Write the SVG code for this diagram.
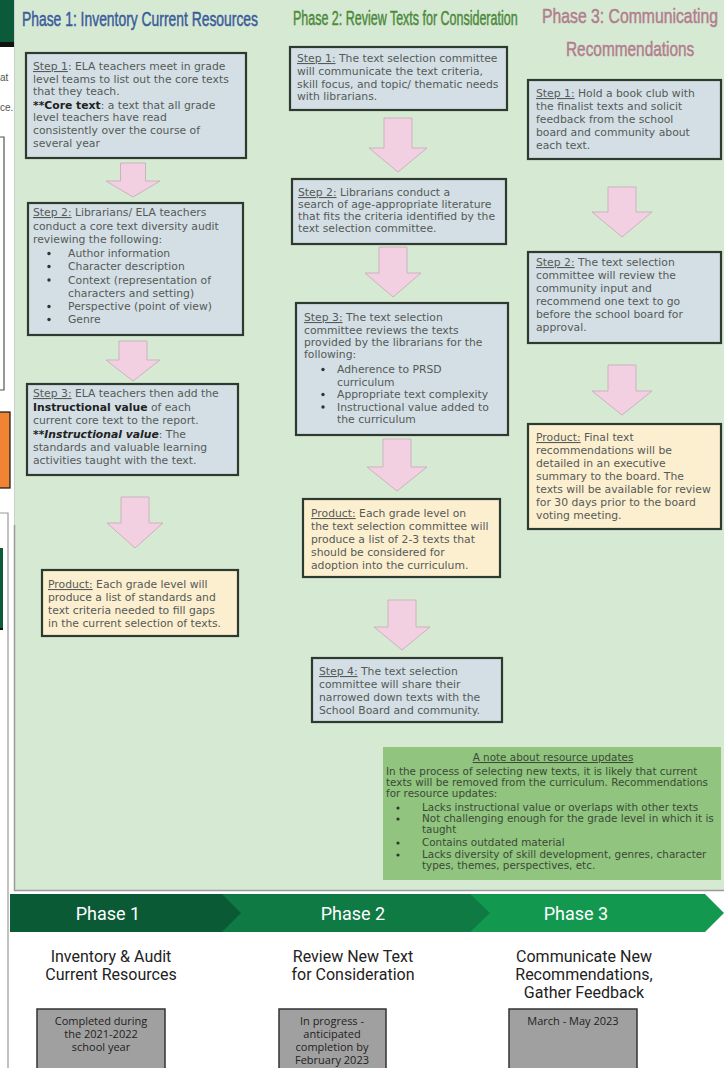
<svg xmlns="http://www.w3.org/2000/svg" width="724" height="1068" viewBox="0 0 724 1068">
<style>
.t{font-family:"DejaVu Sans","Liberation Sans",sans-serif;font-size:10.8px;fill:#555a58}
.b{font-weight:bold;fill:#222}
.u{text-decoration:underline}
.step{fill:#d3dfe4;stroke:#2e392f;stroke-width:2.2}
.prod{fill:#fcefcf;stroke:#2e392f;stroke-width:2.2}
.arr{fill:#f3d0e1;stroke:#cbb2bf;stroke-width:1}
.hd{font-family:"Liberation Sans",Arial,sans-serif;font-size:21px;stroke-width:0.5}
.n{font-family:"DejaVu Sans","Liberation Sans",sans-serif;font-size:10.4px;fill:#3c4a36}
.ph{font-family:Roboto,"Liberation Sans",sans-serif;font-size:18px;fill:#fff;text-anchor:middle}
.ds{font-family:Roboto,"Liberation Sans",sans-serif;font-size:16px;fill:#222;text-anchor:middle}
.gb{fill:#a0a0a0;stroke:#333;stroke-width:1.5}
.gt{font-family:"Open Sans","Liberation Sans",sans-serif;font-size:11px;fill:#222;text-anchor:middle}
</style>
<rect x="0" y="0" width="724" height="1068" fill="#fff"/>
<g id="left-strip">
<rect x="0" y="0" width="15" height="42" fill="#0b5a3a"/>
<rect x="0" y="42" width="15" height="5" fill="#111"/>
<text x="0" y="81" font-family="Liberation Sans,sans-serif" font-size="10" fill="#555">at</text>
<text x="0" y="111" font-family="Liberation Sans,sans-serif" font-size="10" fill="#555">ce.</text>
<path d="M0,137 H4 V390 H0" fill="none" stroke="#555" stroke-width="1.2"/>
<rect x="-1" y="412" width="11" height="76" fill="#f08432" stroke="#111" stroke-width="1.2"/>
<path d="M0,513 H8 V1068" fill="none" stroke="#999" stroke-width="1.2"/>
<rect x="0" y="548" width="3" height="82" fill="#0b5a3a"/>
<rect x="0" y="628" width="3" height="2" fill="#111"/>
</g>
<g id="panel">
<rect x="15" y="0" width="709" height="890" fill="#d6e9d3"/>
<path d="M14.5,525 V890.5 H724" fill="none" stroke="#9a9a9a" stroke-width="1.5"/>
<line x1="14.5" y1="0" x2="14.5" y2="525" stroke="#c8d0c8" stroke-width="1"/>
</g>
<g id="headers">
<text class="hd" transform="translate(22,26) scale(0.661,1)" textLength="357" lengthAdjust="spacingAndGlyphs" fill="#3b5b9b" stroke="#3b5b9b">Phase 1: Inventory Current Resources</text>
<text class="hd" transform="translate(293,25) scale(0.591,1)" textLength="380" lengthAdjust="spacingAndGlyphs" fill="#4c8a3c" stroke="#4c8a3c">Phase 2: Review Texts for Consideration</text>
<text class="hd" transform="translate(542,23) scale(0.685,1)" textLength="257" lengthAdjust="spacingAndGlyphs" fill="#b27d8e" stroke="#b27d8e" font-size="23">Phase 3: Communicating</text>
<text class="hd" transform="translate(566,56) scale(0.668,1)" textLength="192" lengthAdjust="spacingAndGlyphs" fill="#b27d8e" stroke="#b27d8e" font-size="23">Recommendations</text>
</g>
<g id="connectors">
<path class="arr" d="M120.5,163 H145.5 V181 H160 L133,197 L106,181 H120.5 Z"/>
<path class="arr" d="M119,341 H147 V360 H160 L133,381 L106,360 H119 Z"/>
<path class="arr" d="M121,497 H149 V523 H163 L135,548 L107,523 H121 Z"/>
<path class="arr" d="M384,118 H412 V148 H427 L398,172 L369,148 H384 Z"/>
<path class="arr" d="M379,247 H407 V273 H421 L393,297 L365,273 H379 Z"/>
<path class="arr" d="M383,439 H411 V467 H427 L397,491 L367,467 H383 Z"/>
<path class="arr" d="M388,600 H416 V627 H430 L402,650 L374,627 H388 Z"/>
<path class="arr" d="M608,187 H636 V212 H652 L622,237 L592,212 H608 Z"/>
<path class="arr" d="M608,365 H636 V391 H652 L622,415 L592,391 H608 Z"/>
</g>
<g id="p1-step1">
<rect class="step" x="26" y="53" width="220" height="105"/>
<text class="t" x="33" y="70"><tspan class="u">Step 1</tspan>: ELA teachers meet in grade</text>
<text class="t" x="33" y="82.5">level teams to list out the core texts</text>
<text class="t" x="33" y="95">that they teach.</text>
<text class="t" x="33" y="108.5"><tspan class="b">**Core text</tspan>: a text that all grade</text>
<text class="t" x="33" y="121">level teachers have read</text>
<text class="t" x="33" y="134">consistently over the course of</text>
<text class="t" x="33" y="147">several year</text>
</g>
<g id="p1-step2">
<rect class="step" x="28" y="203" width="215" height="132"/>
<text class="t" x="33" y="216"><tspan class="u">Step 2:</tspan> Librarians/ ELA teachers</text>
<text class="t" x="33" y="229.5">conduct a core text diversity audit</text>
<text class="t" x="33" y="243">reviewing the following:</text>
<g fill="#333"><circle cx="49" cy="253.5" r="1.7"/><circle cx="49" cy="266.5" r="1.7"/><circle cx="49" cy="280" r="1.7"/><circle cx="49" cy="306.5" r="1.7"/><circle cx="49" cy="319.5" r="1.7"/></g>
<text class="t" x="68" y="257">Author information</text>
<text class="t" x="68" y="270">Character description</text>
<text class="t" x="68" y="283.5">Context (representation of</text>
<text class="t" x="68" y="296.5">characters and setting)</text>
<text class="t" x="68" y="310">Perspective (point of view)</text>
<text class="t" x="68" y="323">Genre</text>
</g>
<g id="p1-step3">
<rect class="step" x="27" y="384" width="211" height="91"/>
<text class="t" x="33" y="397"><tspan class="u">Step 3:</tspan> ELA teachers then add the</text>
<text class="t" x="33" y="411"><tspan class="b">Instructional value</tspan> of each</text>
<text class="t" x="33" y="424">current core text to the report.</text>
<text class="t" x="33" y="438"><tspan class="b" font-style="italic">**Instructional value</tspan>: The</text>
<text class="t" x="33" y="451">standards and valuable learning</text>
<text class="t" x="33" y="464">activities taught with the text.</text>
</g>
<g id="p1-product">
<rect class="prod" x="42" y="570" width="196" height="66"/>
<text class="t" x="48" y="588"><tspan class="u">Product:</tspan> Each grade level will</text>
<text class="t" x="48" y="601">produce a list of standards and</text>
<text class="t" x="48" y="614">text criteria needed to fill gaps</text>
<text class="t" x="48" y="627">in the current selection of texts.</text>
</g>
<g id="p2-step1">
<rect class="step" x="290" y="47" width="217" height="63"/>
<text class="t" x="297" y="62"><tspan class="u">Step 1:</tspan> The text selection committee</text>
<text class="t" x="297" y="75">will communicate the text criteria,</text>
<text class="t" x="297" y="87.5">skill focus, and topic/ thematic needs</text>
<text class="t" x="297" y="100">with librarians.</text>
</g>
<g id="p2-step2">
<rect class="step" x="292" y="179" width="214" height="65"/>
<text class="t" x="298" y="196"><tspan class="u">Step 2:</tspan> Librarians conduct a</text>
<text class="t" x="298" y="208">search of age-appropriate literature</text>
<text class="t" x="298" y="220">that fits the criteria identified by the</text>
<text class="t" x="298" y="232">text selection committee.</text>
</g>
<g id="p2-step3">
<rect class="step" x="296" y="303" width="212" height="132"/>
<text class="t" x="304" y="321"><tspan class="u">Step 3:</tspan> The text selection</text>
<text class="t" x="304" y="333.5">committee reviews the texts</text>
<text class="t" x="304" y="346">provided by the librarians for the</text>
<text class="t" x="304" y="358">following:</text>
<g fill="#333"><circle cx="323" cy="369.5" r="1.7"/><circle cx="323" cy="394.5" r="1.7"/><circle cx="323" cy="407" r="1.7"/></g>
<text class="t" x="337" y="373">Adherence to PRSD</text>
<text class="t" x="337" y="385.5">curriculum</text>
<text class="t" x="337" y="398">Appropriate text complexity</text>
<text class="t" x="337" y="410.5">Instructional value added to</text>
<text class="t" x="337" y="423">the curriculum</text>
</g>
<g id="p2-product">
<rect class="prod" x="303" y="499" width="197" height="78"/>
<text class="t" x="311" y="517"><tspan class="u">Product:</tspan> Each grade level on</text>
<text class="t" x="311" y="530">the text selection committee will</text>
<text class="t" x="311" y="542.5">produce a list of 2-3 texts that</text>
<text class="t" x="311" y="555.5">should be considered for</text>
<text class="t" x="311" y="568.5">adoption into the curriculum.</text>
</g>
<g id="p2-step4">
<rect class="step" x="312" y="658" width="190" height="64"/>
<text class="t" x="319" y="675"><tspan class="u">Step 4:</tspan> The text selection</text>
<text class="t" x="319" y="688">committee will share their</text>
<text class="t" x="319" y="701">narrowed down texts with the</text>
<text class="t" x="319" y="714">School Board and community.</text>
</g>
<g id="p3-step1">
<rect class="step" x="528" y="80" width="193" height="79"/>
<text class="t" x="536" y="97"><tspan class="u">Step 1:</tspan> Hold a book club with</text>
<text class="t" x="536" y="110">the finalist texts and solicit</text>
<text class="t" x="536" y="123">feedback from the school</text>
<text class="t" x="536" y="136">board and community about</text>
<text class="t" x="536" y="149">each text.</text>
</g>
<g id="p3-step2">
<rect class="step" x="528" y="252" width="193" height="91"/>
<text class="t" x="536" y="266"><tspan class="u">Step 2:</tspan> The text selection</text>
<text class="t" x="536" y="279">committee will review the</text>
<text class="t" x="536" y="292">community input and</text>
<text class="t" x="536" y="305">recommend one text to go</text>
<text class="t" x="536" y="318">before the school board for</text>
<text class="t" x="536" y="331">approval.</text>
</g>
<g id="p3-product">
<rect class="prod" x="528" y="424" width="193" height="105"/>
<text class="t" x="536" y="441"><tspan class="u">Product:</tspan> Final text</text>
<text class="t" x="536" y="454">recommendations will be</text>
<text class="t" x="536" y="467">detailed in an executive</text>
<text class="t" x="536" y="480">summary to the board. The</text>
<text class="t" x="536" y="493">texts will be available for review</text>
<text class="t" x="536" y="506">for 30 days prior to the board</text>
<text class="t" x="536" y="519">voting meeting.</text>
</g>
<g id="note">
<rect x="383" y="747" width="338" height="133" fill="#90c47f"/>
<text class="n u" x="553" y="761" text-anchor="middle">A note about resource updates</text>
<text class="n" x="386" y="775">In the process of selecting new texts, it is likely that current</text>
<text class="n" x="386" y="786">texts will be removed from the curriculum. Recommendations</text>
<text class="n" x="386" y="797">for resource updates:</text>
<g fill="#2b3a26"><circle cx="398" cy="808" r="1.6"/><circle cx="398" cy="819" r="1.6"/><circle cx="398" cy="843" r="1.6"/><circle cx="398" cy="855" r="1.6"/></g>
<text class="n" x="422" y="811">Lacks instructional value or overlaps with other texts</text>
<text class="n" x="422" y="822">Not challenging enough for the grade level in which it is</text>
<text class="n" x="422" y="833">taught</text>
<text class="n" x="422" y="846">Contains outdated material</text>
<text class="n" x="422" y="858">Lacks diversity of skill development, genres, character</text>
<text class="n" x="422" y="869">types, themes, perspectives, etc.</text>
</g>
<g id="timeline">
<polygon points="465,894 705,894 724,913 705,932 465,932" fill="#13984f"/>
<polygon points="215,894 470,894 490,913 470,932 215,932" fill="#0f7a44"/>
<polygon points="10,894 222,894 241,913 222,932 10,932" fill="#0a5a35"/>
<text class="ph" x="108" y="919.5">Phase 1</text>
<text class="ph" x="353" y="919.5">Phase 2</text>
<text class="ph" x="576" y="919.5">Phase 3</text>
</g>
<g id="phase1-desc">
<text class="ds" x="111" y="962">Inventory &amp; Audit</text>
<text class="ds" x="111" y="980">Current Resources</text>
<rect class="gb" x="37" y="1009" width="128" height="62"/>
<text class="gt" x="101" y="1025">Completed during</text>
<text class="gt" x="101" y="1038">the 2021-2022</text>
<text class="gt" x="101" y="1051">school year</text>
</g>
<g id="phase2-desc">
<text class="ds" x="353" y="962">Review New Text</text>
<text class="ds" x="353" y="980">for Consideration</text>
<rect class="gb" x="279" y="1009" width="107" height="62"/>
<text class="gt" x="332" y="1025">In progress -</text>
<text class="gt" x="332" y="1038">anticipated</text>
<text class="gt" x="332" y="1051">completion by</text>
<text class="gt" x="332" y="1064">February 2023</text>
</g>
<g id="phase3-desc">
<text class="ds" x="584" y="962">Communicate New</text>
<text class="ds" x="584" y="980">Recommendations,</text>
<text class="ds" x="584" y="998">Gather Feedback</text>
<rect class="gb" x="509" y="1009" width="128" height="62"/>
<text class="gt" x="573" y="1025">March - May 2023</text>
</g>
</svg>
